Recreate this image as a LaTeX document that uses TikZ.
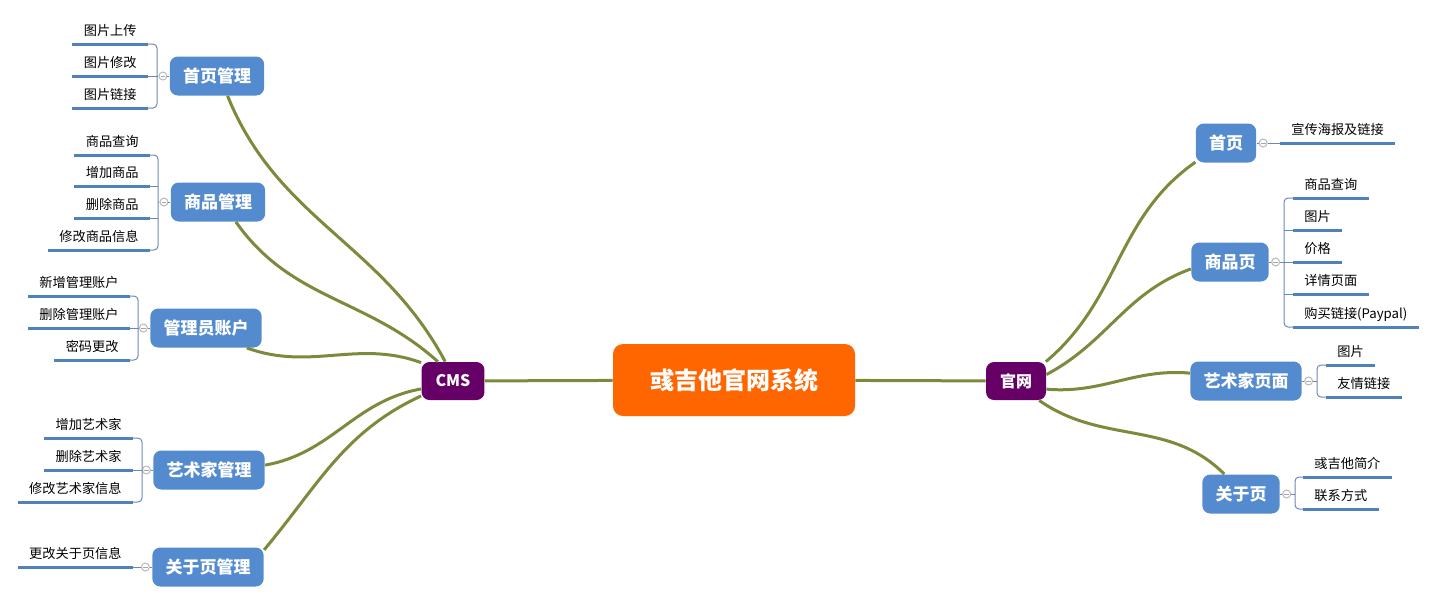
\documentclass[tikz,border=0pt]{standalone}
\usepackage{fontspec}
\setmainfont{Noto Sans CJK SC}
\usetikzlibrary{positioning}

\definecolor{topicblue}{RGB}{84,139,207}
\definecolor{leafline}{RGB}{79,129,189}
\definecolor{branchgreen}{RGB}{122,140,60}
\definecolor{hubpurple}{RGB}{102,0,102}
\definecolor{rootorange}{RGB}{255,102,0}
\definecolor{brackgray}{RGB}{110,135,180}

\begin{document}
\begin{tikzpicture}[x=0.5pt, y=-0.5pt,
    root/.style={rectangle, rounded corners=5pt, fill=rootorange, text=white, font=\fontsize{12}{14}\selectfont\bfseries, minimum width=121pt, minimum height=36pt},
    hub/.style={rectangle, rounded corners=4pt, fill=hubpurple, text=white, font=\fontsize{8}{10}\selectfont\bfseries, minimum width=30pt, minimum height=19pt, inner xsep=7pt},
    topic/.style={rectangle, rounded corners=4pt, fill=topicblue, text=white, font=\fontsize{8.5}{10}\selectfont\bfseries, minimum height=19.5pt, inner xsep=6.6pt},
    leaf/.style={inner xsep=5.5pt, inner ysep=0pt, text depth=4pt, font=\fontsize{6.6}{8}\selectfont,
        append after command={(\tikzlastnode.south west) edge[uline] (\tikzlastnode.south east)}},
    leafL/.style={leaf, anchor=south east},
    leafR/.style={leaf, anchor=south west},
    uline/.style={draw=leafline, line width=1.5pt},
    conn/.style={draw=branchgreen, line width=1.5pt},
    brk/.style={draw=brackgray, line width=0.5pt, rounded corners=2pt},
    fold/.style={circle, draw=gray!55, fill=white, line width=0.5pt, minimum size=4pt, inner sep=0pt,
        path picture={\draw[gray!70, line width=0.4pt] ([xshift=-1.2pt]path picture bounding box.center) -- ([xshift=1.2pt]path picture bounding box.center);}}
]
    \useasboundingbox (0,0) rectangle (1434,602);

    % centre and the two hubs
    \node[root] (root) at (734,380) {彧吉他官网系统};
    \node[hub] (cms) at (453,381) {CMS};
    \node[hub] (gw) at (1016,381) {官网};
    \draw[conn] (root) -- (cms);
    \draw[conn] (root) -- (gw);

    % CMS side topics
    \node[topic] (hp) at (217,76) {首页管理};
    \node[topic] (sp) at (218,202) {商品管理};
    \node[topic] (gl) at (206,328) {管理员账户};
    \node[topic] (ys) at (209,470) {艺术家管理};
    \node[topic] (gy) at (208,567) {关于页管理};

    \draw[conn] (cms.112) to[out=118, in=-68] (hp.-62);
    \draw[conn] (cms.128) to[out=138, in=-55] (sp.-48);
    \draw[conn] (cms.150) to[out=160, in=-20] (gl.-26);
    \draw[conn] (cms.194) to[out=190, in=10] (ys.5);
    \draw[conn] (cms.205) to[out=205, in=50] (gy.17);

    % 官网 side topics
    \node[topic] (sy) at (1226,143) {首页};
    \node[topic] (spy) at (1230,262) {商品页};
    \node[topic] (ysy) at (1246,381) {艺术家页面};
    \node[topic] (gyy) at (1241,494) {关于页};

    \draw[conn] (gw.33) to[out=40, in=-145] (sy.212);
    \draw[conn] (gw.12) to[out=28, in=-160] (spy.190);
    \draw[conn] (gw.-15) to[out=-5, in=175] (ysy.172);
    \draw[conn] (gw.-40) to[out=-35, in=135] (gyy.130);

    % fold markers
    \node[fold, left=1pt of hp] (hpf) {};
    \node[fold, left=1pt of sp] (spf) {};
    \node[fold, left=1pt of gl] (glf) {};
    \node[fold, left=1pt of ys] (ysf) {};
    \node[fold, left=1pt of gy] (gyf) {};
    \node[fold, right=1pt of sy] (syf) {};
    \node[fold, right=1pt of spy] (spyf) {};
    \node[fold, right=1pt of ysy] (ysyf) {};
    \node[fold, right=1pt of gyy] (gyyf) {};

    % leaves: 首页管理
    \node[leafL] (hp1) at (148,44) {图片上传};
    \node[leafL] (hp2) at (148,76) {图片修改};
    \node[leafL] (hp3) at (148,108) {图片链接};
    \coordinate (hpb) at ([xshift=4.5pt]hp1.south east);
    \draw[brk] (hp1.south east) -| (hpb |- hp3.south east) -- (hp3.south east);
    \draw[brk] (hp2.south east) -- (hpf.west);
    \draw[brk] (hpf.east) -- (hp.west);

    % leaves: 商品管理
    \node[leafL] (sp1) at (150,155) {商品查询};
    \node[leafL] (sp2) at (150,186) {增加商品};
    \node[leafL] (sp3) at (150,218) {删除商品};
    \node[leafL] (sp4) at (150,250) {修改商品信息};
    \coordinate (spb) at ([xshift=4pt]sp1.south east);
    \draw[brk] (sp1.south east) -| (spb |- sp4.south east) -- (sp4.south east);
    \draw[brk] (sp2.south east) -- (sp2.south east -| spb);
    \draw[brk] (sp3.south east) -- (sp3.south east -| spb);
    \draw[brk] (spf.west) -- (spf.west -| spb);
    \draw[brk] (spf.east) -- (sp.west);

    % leaves: 管理员账户
    \node[leafL] (gl1) at (130,296) {新增管理账户};
    \node[leafL] (gl2) at (130,328) {删除管理账户};
    \node[leafL] (gl3) at (130,360) {密码更改};
    \coordinate (glb) at ([xshift=4pt]gl1.south east);
    \draw[brk] (gl1.south east) -| (glb |- gl3.south east) -- (gl3.south east);
    \draw[brk] (gl2.south east) -- (glf.west);
    \draw[brk] (glf.east) -- (gl.west);

    % leaves: 艺术家管理
    \node[leafL] (ys1) at (133,438) {增加艺术家};
    \node[leafL] (ys2) at (133,470) {删除艺术家};
    \node[leafL] (ys3) at (133,502) {修改艺术家信息};
    \coordinate (ysb) at ([xshift=4.5pt]ys1.south east);
    \draw[brk] (ys1.south east) -| (ysb |- ys3.south east) -- (ys3.south east);
    \draw[brk] (ys2.south east) -- (ysf.west);
    \draw[brk] (ysf.east) -- (ys.west);

    % leaves: 关于页管理
    \node[leafL] (gy1) at (133,567) {更改关于页信息};
    \draw[brk] (gy1.south east) -- (gyf.west);
    \draw[brk] (gyf.east) -- (gy.west);

    % leaves: 首页
    \node[leafR] (sy1) at (1280,143) {宣传海报及链接};
    \draw[brk] (syf.east) -- (sy1.south west);
    \draw[brk] (sy.east) -- (syf.west);

    % leaves: 商品页
    \node[leafR] (spy1) at (1293,198) {商品查询};
    \node[leafR] (spy2) at (1293,230) {图片};
    \node[leafR] (spy3) at (1293,262) {价格};
    \node[leafR] (spy4) at (1293,294) {详情页面};
    \node[leafR] (spy5) at (1293,327) {购买链接(Paypal)};
    \coordinate (spyb) at ([xshift=-4.5pt]spy1.south west);
    \draw[brk] (spy1.south west) -| (spyb |- spy5.south west) -- (spy5.south west);
    \draw[brk] (spy2.south west) -- (spy2.south west -| spyb);
    \draw[brk] (spy4.south west) -- (spy4.south west -| spyb);
    \draw[brk] (spyf.east) -- (spy3.south west);
    \draw[brk] (spy.east) -- (spyf.west);

    % leaves: 艺术家页面
    \node[leafR] (ysy1) at (1326,365) {图片};
    \node[leafR] (ysy2) at (1326,397) {友情链接};
    \coordinate (ysyb) at ([xshift=-4.5pt]ysy1.south west);
    \draw[brk] (ysy1.south west) -| (ysyb |- ysy2.south west) -- (ysy2.south west);
    \draw[brk] (ysyf.east) -- (ysyf.east -| ysyb);
    \draw[brk] (ysy.east) -- (ysyf.west);

    % leaves: 关于页
    \node[leafR] (gyy1) at (1303,477) {彧吉他简介};
    \node[leafR] (gyy2) at (1303,509) {联系方式};
    \coordinate (gyyb) at ([xshift=-4pt]gyy1.south west);
    \draw[brk] (gyy1.south west) -| (gyyb |- gyy2.south west) -- (gyy2.south west);
    \draw[brk] (gyyf.east) -- (gyyf.east -| gyyb);
    \draw[brk] (gyy.east) -- (gyyf.west);
\end{tikzpicture}
\end{document}
